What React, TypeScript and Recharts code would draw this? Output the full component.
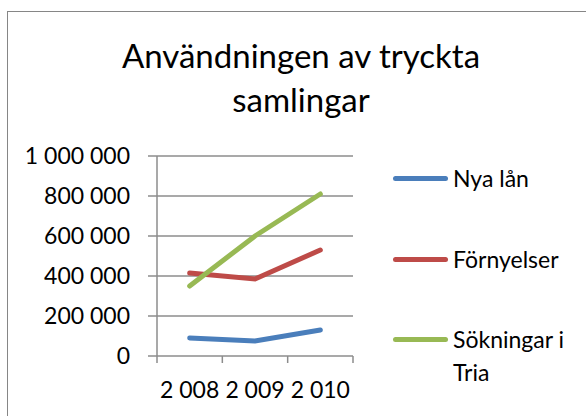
import { CartesianGrid, Line, LineChart, XAxis, YAxis } from "recharts";

const years = ["2 008", "2 009", "2 010"];
const nyaLan = [90000, 75000, 130000];
const fornyelser = [415000, 385000, 530000];
const sokningar = [350000, 600000, 810000];
const yTicks = [0, 200000, 400000, 600000, 800000, 1000000];

const series = [
  { key: "nyaLan", name: "Nya lån", color: "#4a7ebb", values: nyaLan },
  { key: "fornyelser", name: "Förnyelser", color: "#be4b48", values: fornyelser },
  { key: "sokningar", name: "Sökningar i Tria", color: "#98b954", values: sokningar }
];

const data = years.map((year, i) => {
  const row: Record<string, string | number> = { year };
  series.forEach((s) => {
    row[s.key] = s.values[i];
  });
  return row;
});

const FONT = "Lato, 'Noto Sans', sans-serif";
const GRID = "#8c8c8c";

function formatTick(value: number): string {
  return String(value).replace(/\B(?=(\d{3})+(?!\d))/g, " ");
}

function YearTick(props: any) {
  const { x, y, payload } = props;
  const half = payload.offset ?? 196 / years.length / 2;
  const isLast = payload.value === years[years.length - 1];
  return (
    <g>
      <line x1={x - half} x2={x - half} y1={y} y2={y + 7} stroke={GRID} strokeWidth={1.5} />
      {isLast && <line x1={x + half} x2={x + half} y1={y} y2={y + 7} stroke={GRID} strokeWidth={1.5} />}
      <text x={x} y={y + 42} textAnchor="middle" fill="#000" fontSize={23} fontFamily={FONT}>
        {payload.value}
      </text>
    </g>
  );
}

export default function App() {
  return (
    <div style={{ position: "fixed", left: 0, top: 0, width: 586, height: 416, overflow: "hidden", background: "#fff" }}>
      <div
        style={{
          position: "absolute",
          left: 7,
          top: 11,
          width: 700,
          height: 500,
          border: "1px solid #868686",
          boxSizing: "border-box"
        }}
      />
      <div
        style={{
          position: "absolute",
          left: 101,
          top: 33,
          width: 400,
          textAlign: "center",
          fontFamily: FONT,
          fontSize: 33,
          lineHeight: "44px",
          color: "#000"
        }}
      >
        Användningen av tryckta
        <br />
        samlingar
      </div>
      <div style={{ position: "absolute", left: 0, top: 0 }}>
        <LineChart width={586} height={416} data={data} margin={{ top: 156, right: 233, bottom: 0, left: 0 }}>
          <CartesianGrid vertical={false} stroke={GRID} strokeWidth={1.5} />
          <XAxis
            dataKey="year"
            scale="band"
            height={60}
            axisLine={false}
            tickLine={false}
            tickSize={0}
            tickMargin={0}
            interval={0}
            tick={<YearTick />}
          />
          <YAxis
            width={157}
            domain={[0, 1000000]}
            ticks={yTicks}
            interval={0}
            tickFormatter={formatTick}
            axisLine={{ stroke: GRID, strokeWidth: 1.5 }}
            tickLine={{ stroke: GRID, strokeWidth: 1.5 }}
            tickSize={9}
            tickMargin={18}
            tick={{ fill: "#000", fontSize: 23, fontFamily: FONT }}
          />
          {series.map((s) => (
            <Line
              key={s.key}
              type="linear"
              dataKey={s.key}
              name={s.name}
              stroke={s.color}
              strokeWidth={5}
              strokeLinecap="round"
              dot={false}
              activeDot={false}
              isAnimationActive={false}
            />
          ))}
        </LineChart>
      </div>
      {series.map((s, i) => (
        <div
          key={s.key}
          style={{
            position: "absolute",
            left: 393,
            top: 162 + i * 80.5,
            display: "flex",
            alignItems: "flex-start",
            fontFamily: FONT,
            fontSize: 23,
            lineHeight: "33px",
            color: "#000"
          }}
        >
          <div style={{ width: 55, height: 5, borderRadius: 3, background: s.color, marginTop: 14, marginRight: 5 }} />
          <div style={{ width: 125 }}>{s.name}</div>
        </div>
      ))}
    </div>
  );
}
